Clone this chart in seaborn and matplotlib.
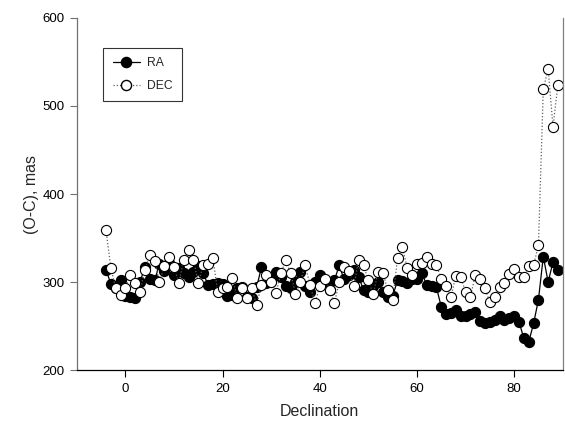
import numpy as np
import pandas as pd
import matplotlib
matplotlib.use("Agg")
import matplotlib.pyplot as plt
import seaborn as sns
from matplotlib.lines import Line2D

declination = list(range(-4, 90))

ra = [314, 298, 293, 302, 284, 283, 282, 300, 317, 304,
      302, 320, 313, 322, 308, 316, 310, 306, 311, 318,
      310, 297, 298, 299, 298, 284, 285, 293, 294, 283,
      282, 294, 317, 299, 302, 311, 306, 296, 293, 300,
      312, 296, 289, 300, 308, 300, 291, 302, 319, 303,
      308, 314, 306, 291, 289, 296, 300, 289, 283, 284,
      302, 301, 299, 304, 303, 310, 297, 296, 294, 272,
      264, 265, 268, 261, 262, 264, 266, 256, 254, 255,
      257, 261, 257, 259, 262, 255, 236, 232, 253, 280,
      329, 300, 323, 314]

dec = [359, 316, 293, 285, 293, 308, 299, 289, 314, 331,
       324, 300, 318, 329, 317, 299, 325, 336, 325, 299,
       319, 321, 327, 289, 293, 294, 305, 282, 293, 282,
       293, 274, 297, 308, 300, 288, 310, 325, 310, 287,
       300, 319, 297, 276, 295, 304, 291, 276, 300, 317,
       313, 295, 325, 319, 302, 286, 312, 310, 291, 280,
       327, 340, 316, 308, 321, 322, 328, 321, 319, 304,
       295, 283, 307, 306, 289, 283, 308, 303, 293, 277,
       283, 294, 299, 309, 315, 306, 306, 318, 319, 342,
       519, 542, 476, 524]

x_ticks = [0, 20, 40, 60, 80]
y_ticks = [200, 300, 400, 500, 600]
series_names = ["RA", "DEC"]

df = pd.DataFrame({"Declination": declination, "RA": ra, "DEC": dec})

sns.set_style("ticks")
plt.rcParams["font.family"] = ["Liberation Sans", "DejaVu Sans"]

fig = plt.figure(figsize=(5.65, 4.25), dpi=100)
ax = fig.add_axes([0.136, 0.129, 0.860, 0.829])

ms = 7.3
sns.lineplot(data=df, x="Declination", y="RA", ax=ax, color="black",
             linewidth=0.9, marker="o", markersize=ms,
             markerfacecolor="black", markeredgecolor="black",
             markeredgewidth=0.8, estimator=None, sort=False)
sns.lineplot(data=df, x="Declination", y="DEC", ax=ax, color="#606060",
             linewidth=0.9, linestyle=(0, (1, 1.6)), marker="o",
             markersize=ms, markerfacecolor="white",
             markeredgecolor="black", markeredgewidth=0.8,
             estimator=None, sort=False)

ax.set_xlim(-10, 90)
ax.set_ylim(200, 600)
ax.set_xticks(x_ticks)
ax.set_yticks(y_ticks)
ax.tick_params(axis="both", direction="out", length=5, width=0.8,
               labelsize=9.5, colors="black", pad=4)
ax.tick_params(axis="y", color="#707070")
ax.set_xlabel("Declination", fontsize=11.5, labelpad=7)
ax.set_ylabel("(O-C), mas", fontsize=11.5, labelpad=2)

ax.spines["top"].set_visible(False)
ax.spines["right"].set_visible(True)
ax.spines["right"].set_color("#808080")
ax.spines["left"].set_color("#707070")
ax.spines["bottom"].set_color("black")
for s in ax.spines.values():
    s.set_linewidth(0.9)

handles = [
    Line2D([0], [0], color="black", linewidth=0.9, marker="o",
           markersize=ms, markerfacecolor="black", markeredgecolor="black"),
    Line2D([0], [0], color="#606060", linewidth=0.9, linestyle=(0, (1, 1.6)),
           marker="o", markersize=ms, markerfacecolor="white",
           markeredgecolor="black"),
]
leg = ax.legend(handles, series_names, loc="upper left",
                bbox_to_anchor=(0.0535, 0.915), borderaxespad=0,
                fontsize=8.7, frameon=True,
                fancybox=False, edgecolor="black", handlelength=2.3,
                borderpad=0.8, labelspacing=0.85, handletextpad=0.55)
leg.get_frame().set_linewidth(0.8)

fig.savefig("out.png", dpi=100)
